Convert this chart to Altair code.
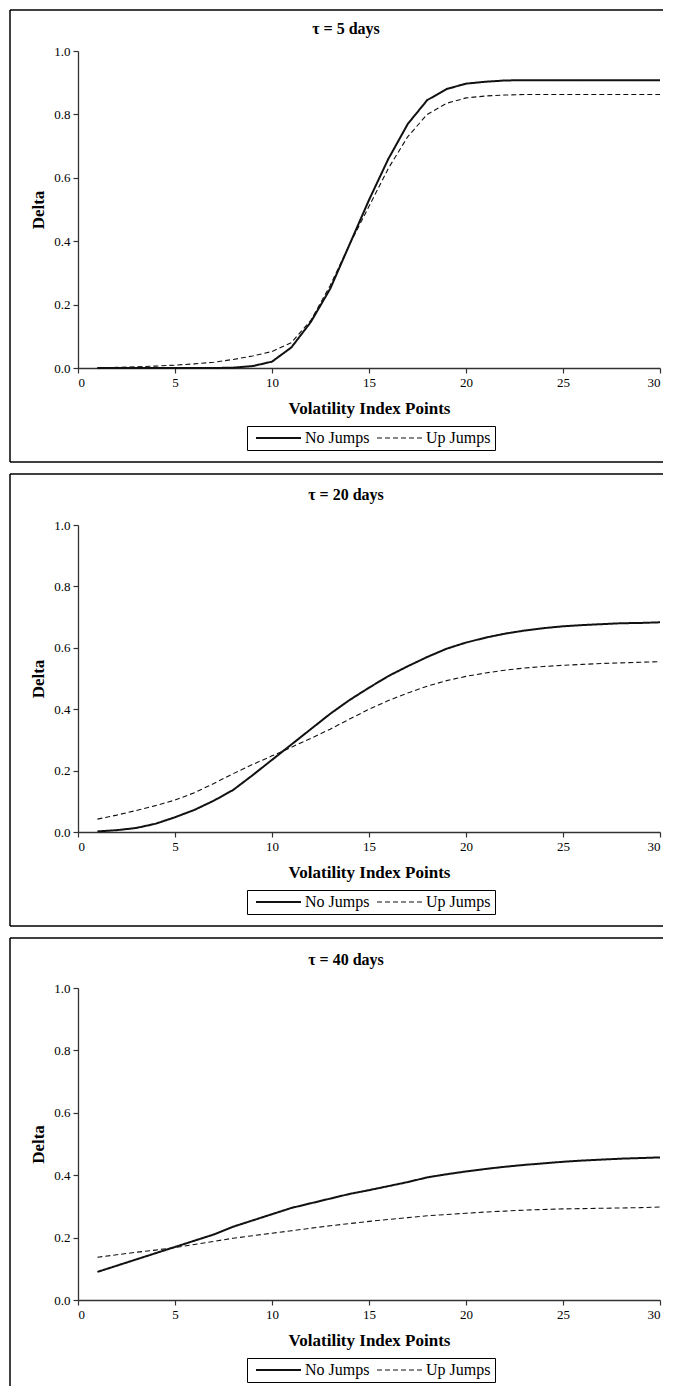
import altair as alt
import pandas as pd

# ---------------- data ----------------
x_vals = list(range(1, 31))
series_names = ["No Jumps", "Up Jumps"]
panel_titles = ["τ = 5 days", "τ = 20 days", "τ = 40 days"]
x_ticks = [0, 5, 10, 15, 20, 25, 30]
y_ticks = [0.0, 0.2, 0.4, 0.6, 0.8, 1.0]

no_jumps_5 = [0.000, 0.000, 0.000, 0.000, 0.000, 0.000, 0.000, 0.001, 0.006, 0.020,
              0.065, 0.145, 0.250, 0.390, 0.530, 0.660, 0.770, 0.845, 0.880, 0.897,
              0.903, 0.907, 0.908, 0.908, 0.908, 0.908, 0.908, 0.908, 0.908, 0.908]
up_jumps_5 = [0.000, 0.002, 0.004, 0.006, 0.009, 0.013, 0.018, 0.027, 0.038, 0.052,
              0.080, 0.150, 0.260, 0.390, 0.510, 0.630, 0.730, 0.800, 0.835, 0.852,
              0.858, 0.861, 0.863, 0.863, 0.863, 0.863, 0.863, 0.863, 0.863, 0.863]

no_jumps_20 = [0.002, 0.006, 0.013, 0.027, 0.048, 0.072, 0.102, 0.137, 0.185, 0.235,
               0.285, 0.335, 0.385, 0.430, 0.470, 0.508, 0.540, 0.570, 0.597, 0.617,
               0.633, 0.646, 0.656, 0.664, 0.670, 0.674, 0.677, 0.680, 0.681, 0.683]
up_jumps_20 = [0.042, 0.055, 0.070, 0.086, 0.104, 0.128, 0.158, 0.190, 0.220, 0.248,
               0.276, 0.305, 0.335, 0.368, 0.400, 0.428, 0.453, 0.475, 0.493, 0.507,
               0.518, 0.527, 0.534, 0.539, 0.543, 0.546, 0.549, 0.551, 0.553, 0.555]

no_jumps_40 = [0.090, 0.110, 0.130, 0.150, 0.170, 0.190, 0.210, 0.235, 0.255, 0.275,
               0.295, 0.310, 0.325, 0.340, 0.352, 0.365, 0.378, 0.393, 0.403, 0.412,
               0.420, 0.427, 0.433, 0.438, 0.443, 0.447, 0.450, 0.453, 0.455, 0.457]
up_jumps_40 = [0.137, 0.145, 0.153, 0.160, 0.168, 0.178, 0.188, 0.198, 0.206, 0.214,
               0.222, 0.230, 0.238, 0.245, 0.252, 0.258, 0.264, 0.270, 0.274, 0.278,
               0.282, 0.285, 0.288, 0.290, 0.292, 0.293, 0.294, 0.295, 0.296, 0.298]

# per panel: title, series, plot height, frame top offset, title offset, frame bottom offset
panels = [
    dict(title=panel_titles[0], nj=no_jumps_5, uj=up_jumps_5, h=317, top=-41, ty=-22, bottom=94),
    dict(title=panel_titles[1], nj=no_jumps_20, uj=up_jumps_20, h=307, top=-51, ty=-30, bottom=94),
    dict(title=panel_titles[2], nj=no_jumps_40, uj=up_jumps_40, h=312, top=-50, ty=-28, bottom=None),
]

# ---------------- style ----------------
FONT = "Liberation Serif"
W = 582
FRAME_L, FRAME_R = -68, 600


def rule(x1, x2, y1, y2):
    return alt.Chart(pd.DataFrame({"f": [0]})).mark_rule(
        color="#000000", strokeWidth=1.5
    ).encode(x=alt.value(x1), x2=alt.value(x2), y=alt.value(y1), y2=alt.value(y2))


def make_panel(title, nj, uj, h, top, ty, bottom):
    df = pd.DataFrame({
        "x": x_vals + x_vals,
        "delta": nj + uj,
        "series": [series_names[0]] * len(x_vals) + [series_names[1]] * len(x_vals),
    })
    frame_b = h + (bottom if bottom is not None else 86)
    layers = [
        rule(FRAME_L, FRAME_R, top, top),        # top edge
        rule(FRAME_L, FRAME_L, top, frame_b),    # left edge
    ]
    if bottom is not None:
        layers.append(rule(FRAME_L, FRAME_R, frame_b, frame_b))  # bottom edge

    title_mark = alt.Chart(pd.DataFrame({"title": [title]})).mark_text(
        font=FONT, fontSize=16, fontWeight="bold", color="#000000",
        align="center", baseline="middle"
    ).encode(text="title:N", x=alt.value(268), y=alt.value(ty))

    lines = alt.Chart(df).mark_line(color="#111111").encode(
        x=alt.X("x:Q",
                scale=alt.Scale(domain=[0, 30], nice=False),
                axis=alt.Axis(values=x_ticks, title="Volatility Index Points",
                              labelFlush=True, titlePadding=11)),
        y=alt.Y("delta:Q",
                scale=alt.Scale(domain=[0, 1], nice=False),
                axis=alt.Axis(values=y_ticks, format=".1f", title="Delta",
                              labelFlush=False, titlePadding=6)),
        strokeDash=alt.StrokeDash(
            "series:N",
            scale=alt.Scale(domain=series_names, range=[[1, 0], [5, 3]]),
            legend=alt.Legend(
                title=None, orient="none", legendX=169, legendY=h + 58,
                direction="horizontal",
                symbolType="M-1,0L14,0", symbolSize=36, symbolStrokeWidth=1.5,
                symbolStrokeColor="#111111", symbolFillColor="transparent",
                labelOffset=38, labelFont=FONT, labelFontSize=16, labelColor="#000000",
                strokeColor="#000000", fillColor="#ffffff", padding=4,
                columnPadding=2,
            ),
        ),
        strokeWidth=alt.StrokeWidth(
            "series:N",
            scale=alt.Scale(domain=series_names, range=[2.0, 1.1]),
            legend=None,
        ),
        order="x:Q",
    )
    layers += [title_mark, lines]
    return alt.layer(*layers).properties(width=W, height=h)


chart = alt.vconcat(
    *[make_panel(**p) for p in panels],
    spacing=8
).resolve_scale(
    strokeDash="independent", strokeWidth="independent"
).resolve_legend(
    strokeDash="independent"
).properties(
    padding={"left": 0, "top": 0, "right": -17, "bottom": 0}
).configure_view(
    stroke="transparent"
).configure_axis(
    grid=False,
    domainColor="#333333", domainWidth=1.3,
    tickColor="#333333", tickWidth=1.2, tickSize=5,
    labelFont=FONT, labelFontSize=13, labelColor="#000000", labelPadding=3,
    titleFont=FONT, titleFontSize=17, titleFontWeight="bold", titleColor="#000000",
).configure_concat(spacing=8)

chart.save("out.html", embed_options={"renderer": "svg", "actions": False})
